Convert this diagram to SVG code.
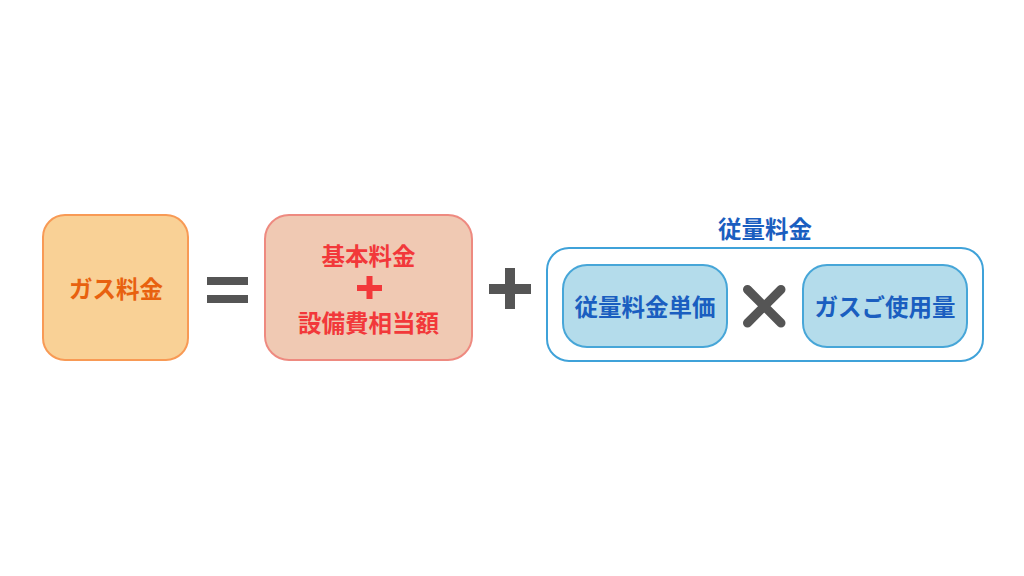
<svg xmlns="http://www.w3.org/2000/svg" width="1024" height="576" viewBox="0 0 1024 576">
<style>
text{font-family:"Noto Sans CJK JP","Noto Sans CJK SC",sans-serif;font-weight:700;font-size:23.5px;text-anchor:middle;dominant-baseline:central}
.op{fill:#555555}
.orange{fill:#E8610F}
.red{fill:#F2383A}
.blue{fill:#1A5EC0}
</style>
<rect width="1024" height="576" fill="#ffffff"/>
<g id="gas-fee">
<rect x="43" y="215" width="145" height="145" rx="22" fill="#F9D196" stroke="#F89A55" stroke-width="2"/>
<text class="orange" x="116" y="288">ガス料金</text>
</g>
<g id="equals">
<rect class="op" x="207" y="277" width="41" height="8"/>
<rect class="op" x="207" y="295" width="41" height="8"/>
</g>
<g id="basic-fee">
<rect x="265" y="215" width="207" height="145" rx="24" fill="#F0C9B3" stroke="#EE8A80" stroke-width="2"/>
<text class="red" x="368.5" y="255">基本料金</text>
<rect class="red" x="357" y="285" width="25" height="6"/>
<rect class="red" x="366.5" y="276" width="6" height="23"/>
<text class="red" x="368.5" y="322">設備費相当額</text>
</g>
<g id="plus">
<rect class="op" x="489" y="284" width="42" height="10"/>
<rect class="op" x="505" y="268" width="10" height="41"/>
</g>
<g id="usage-fee">
<text class="blue" x="765" y="228">従量料金</text>
<rect x="547" y="248" width="436" height="113" rx="22" fill="#ffffff" stroke="#3FA2D9" stroke-width="2"/>
</g>
<g id="unit-price">
<rect x="563" y="265" width="164" height="82" rx="24" fill="#B4DCEB" stroke="#47A6D8" stroke-width="2"/>
<text class="blue" x="645" y="306">従量料金単価</text>
</g>
<g id="times">
<path d="M747.5 289.5 L781 323 M781 289.5 L747.5 323" stroke="#555555" stroke-width="9" stroke-linecap="round" fill="none"/>
</g>
<g id="gas-usage">
<rect x="803" y="265" width="164" height="82" rx="24" fill="#B4DCEB" stroke="#47A6D8" stroke-width="2"/>
<text class="blue" x="885" y="306">ガスご使用量</text>
</g>
</svg>
